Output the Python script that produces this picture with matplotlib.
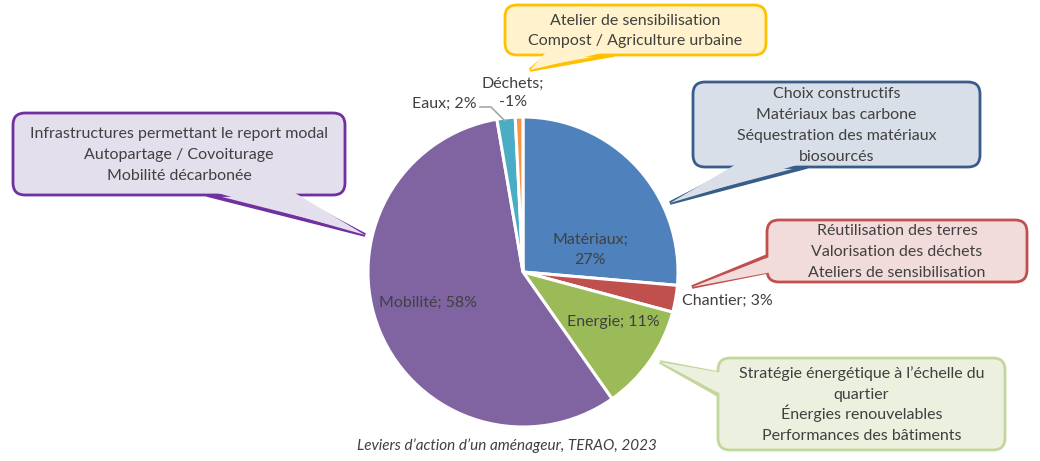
import matplotlib.pyplot as plt
from matplotlib.patches import FancyBboxPatch, Polygon

# Données (parts estimées à partir du graphique)
categories = ['Matériaux', 'Chantier', 'Energie', 'Mobilité', 'Eaux', 'Déchets']
valeurs = [26.4, 2.8, 11.1, 57.1, 1.9, 0.8]
etiquettes = ['Matériaux;\n27%', 'Chantier; 3%', 'Energie; 11%', 'Mobilité; 58%', 'Eaux; 2%', 'Déchets;\n-1%']
couleurs = ['#4F81BD', '#C0504D', '#9BBB59', '#8064A2', '#4BACC6', '#F79646']

W, H = 1040, 461
GRIS = '#404040'
TAILLE = 11.5
plt.rcParams['font.family'] = ['Lato', 'DejaVu Sans']


def px(x, y):
    # coordonnées en pixels (origine en haut à gauche)
    return x, H - y


fig = plt.figure(figsize=(W / 100, H / 100), dpi=100)
ax = fig.add_axes([0, 0, 1, 1])

# Camembert
ax.pie(valeurs, colors=couleurs, startangle=90, counterclock=False,
       center=px(523, 272), radius=155,
       wedgeprops=dict(edgecolor='white', linewidth=2.2))

ax.set_xlim(0, W)
ax.set_ylim(0, H)
ax.set_aspect('equal')
ax.axis('off')


def lignes(x, y, texte, ha='center', pas=20.7, zorder=6):
    # une ligne à la fois, alignée sur la ligne de base (interligne régulier)
    morceaux = texte.split('\n')
    y0 = y - pas * (len(morceaux) - 1) / 2
    for i, m in enumerate(morceaux):
        ax.text(*px(x, y0 + i * pas + 5), m, ha=ha, va='baseline', fontsize=TAILLE,
                color=GRIS, zorder=zorder)


# Étiquettes du camembert
lignes(590, 249, etiquettes[0])
lignes(682, 300, etiquettes[1], ha='left')
lignes(613, 321, etiquettes[2])
lignes(428, 302, etiquettes[3])
lignes(477, 103, etiquettes[4], ha='right')
lignes(513, 92, etiquettes[5], pas=19)
ax.plot(*zip(px(480, 107), px(491, 107), px(505, 121)), color='#A6A6A6', lw=1.2)


def bulle(x0, y0, x1, y1, pointe, base, dedans, bord, fond, texte):
    # bulle arrondie avec une pointe
    queue = [px(*base[0]), px(*pointe), px(*base[1])]
    ax.add_patch(Polygon(queue, closed=True, facecolor=fond, edgecolor=bord,
                         lw=2.6, zorder=3, joinstyle='miter'))
    ax.add_patch(FancyBboxPatch(px(x0, y1), x1 - x0, y1 - y0,
                                boxstyle='round,pad=0,rounding_size=12',
                                facecolor=fond, edgecolor=bord, lw=2, zorder=4))
    dx, dy = dedans
    cache = [px(base[0][0] + dx, base[0][1] + dy), px(*pointe),
             px(base[1][0] + dx, base[1][1] + dy)]
    ax.add_patch(Polygon(cache, closed=True, facecolor=fond, edgecolor='none',
                         lw=0, zorder=5))
    lignes((x0 + x1) / 2, (y0 + y1) / 2, texte)


bulle(505, 5, 766, 55, (530, 70), [(548, 55), (614, 55)], (0, -5),
      '#FFC000', '#FFF2CC',
      'Atelier de sensibilisation\nCompost / Agriculture urbaine')
bulle(693, 82, 980, 167, (670, 203), [(740, 167), (807, 167)], (0, -5),
      '#385D8A', '#D9DFE8',
      'Choix constructifs\nMatériaux bas carbone\nSéquestration des matériaux\nbiosourcés')
bulle(767, 220, 1027, 282, (692, 287), [(767, 256), (767, 272)], (5, 0),
      '#C0504D', '#F2DCDB',
      'Réutilisation des terres\nValorisation des déchets\nAteliers de sensibilisation')
bulle(718, 358, 1005, 450, (660, 362), [(718, 373), (718, 395)], (5, 0),
      '#C3D69B', '#EBF1DE',
      'Stratégie énergétique à l’échelle du\nquartier\nÉnergies renouvelables\nPerformances des bâtiments')
bulle(13, 113, 345, 195, (365, 235), [(207, 195), (290, 195)], (0, -5),
      '#7030A0', '#E4DFEC',
      'Infrastructures permettant le report modal\nAutopartage / Covoiturage\nMobilité décarbonée')

# Source
ax.text(*px(507, 450), 'Leviers d’action d’un aménageur, TERAO, 2023', ha='center',
        va='baseline', fontsize=11, style='italic', color=GRIS)

fig.savefig('out.png', dpi=100)
